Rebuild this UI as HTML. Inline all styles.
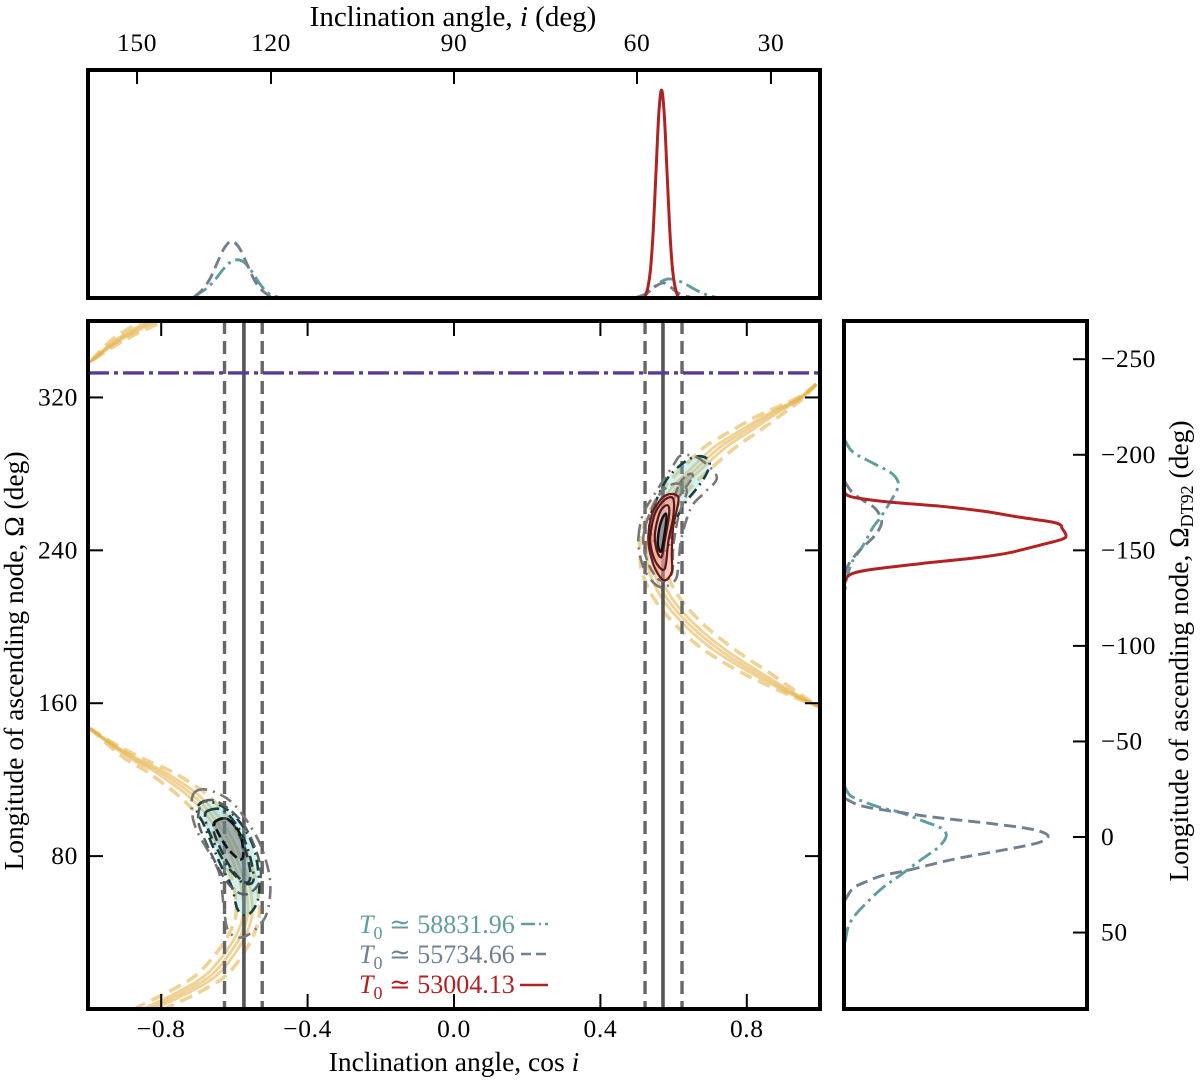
<!DOCTYPE html>
<html lang="en">
<head>
<meta charset="utf-8">
<title>Inclination and ascending node posterior</title>
<style>
html,body{margin:0;padding:0;background:#fff;}
svg{display:block;font-family:"Liberation Serif","DejaVu Serif",serif;}
text{fill:#000;}
</style>
</head>
<body>
<svg id="chart" xmlns="http://www.w3.org/2000/svg" width="1200" height="1081" viewBox="0 0 1200 1081">
  <defs>
    <clipPath id="main-clip"><rect x="88" y="321" width="732" height="688"/></clipPath>
  </defs>
  <rect x="0" y="0" width="1200" height="1081" fill="#fff"/>
  <g id="top-marks"></g>
  <g id="right-marks"></g>
  <g id="main-marks" clip-path="url(#main-clip)"></g>
  <g id="ticks"></g>
  <rect x="88" y="70" width="732" height="228" fill="none" stroke="#000" stroke-width="4"/>
  <rect x="88" y="321" width="732" height="688" fill="none" stroke="#000" stroke-width="4"/>
  <rect x="844" y="321" width="243" height="688" fill="none" stroke="#000" stroke-width="4"/>

  <text x="453" y="26" font-size="29" text-anchor="middle">Inclination angle, <tspan font-style="italic">i</tspan> (deg)</text>
  <text x="454" y="1071" font-size="27.5" text-anchor="middle">Inclination angle, cos <tspan font-style="italic">i</tspan></text>
  <text transform="translate(23,661) rotate(-90)" font-size="27.5" text-anchor="middle">Longitude of ascending node, Ω (deg)</text>
  <text transform="translate(1188,651) rotate(-90)" font-size="27.5" text-anchor="middle">Longitude of ascending node, Ω<tspan dy="5" font-size="18">DT92</tspan><tspan dy="-5"> (deg)</tspan></text>

  <g font-size="26">
    <text x="359" y="933" style="fill:#5f9ea0"><tspan font-style="italic" style="fill:#5f9ea0">T</tspan><tspan dy="6" font-size="18" style="fill:#5f9ea0">0</tspan><tspan dy="-6" style="fill:#5f9ea0"> ≃ 58831.96</tspan></text>
    <line x1="521" y1="924" x2="548" y2="924" stroke="#5f9ea0" stroke-width="2.6" stroke-dasharray="14 4 2 4"/>
    <text x="359" y="963" style="fill:#708090"><tspan font-style="italic" style="fill:#708090">T</tspan><tspan dy="6" font-size="18" style="fill:#708090">0</tspan><tspan dy="-6" style="fill:#708090"> ≃ 55734.66</tspan></text>
    <line x1="521" y1="954" x2="548" y2="954" stroke="#708090" stroke-width="2.6" stroke-dasharray="10 5"/>
    <text x="359" y="993" style="fill:#b22222"><tspan font-style="italic" style="fill:#b22222">T</tspan><tspan dy="6" font-size="18" style="fill:#b22222">0</tspan><tspan dy="-6" style="fill:#b22222"> ≃ 53004.13</tspan></text>
    <line x1="520" y1="985" x2="548" y2="985" stroke="#b22222" stroke-width="2.6"/>
  </g>
</svg>
<script>
// ---- tick data ----
const cosTicks = [-0.8, -0.4, 0, 0.4, 0.8];
const cosTickLabels = ['−0.8', '−0.4', '0.0', '0.4', '0.8'];
const angleTicks = [150, 120, 90, 60, 30];
const omegaTicks = [80, 160, 240, 320];
const dt92Ticks = [-250, -200, -150, -100, -50, 0, 50];
const dt92TickLabels = ['−250', '−200', '−150', '−100', '−50', '0', '50'];

// ---- reference lines ----
const inclinationCos = [-0.574, 0.571];
const inclinationCosBounds = [-0.627, -0.524, 0.522, 0.623];
const omegaReference = 332.8;

// ---- top marginal: cos i and density ----
const topTealCosA = [-0.71, -0.69, -0.67, -0.65, -0.63, -0.61, -0.593, -0.575, -0.555, -0.535, -0.515, -0.495, -0.48];
const topTealDensityA = [0, 0.025, 0.05, 0.09, 0.135, 0.17, 0.18, 0.17, 0.13, 0.075, 0.03, 0.006, 0];
const topTealCosB = [0.5, 0.52, 0.54, 0.56, 0.585, 0.61, 0.635, 0.66, 0.685, 0.713];
const topTealDensityB = [0, 0.012, 0.035, 0.068, 0.087, 0.08, 0.06, 0.035, 0.014, 0];
const topGreyCosA = [-0.71, -0.687, -0.667, -0.647, -0.627, -0.607, -0.587, -0.567, -0.547, -0.527, -0.5];
const topGreyDensityA = [0, 0.036, 0.087, 0.165, 0.238, 0.27, 0.238, 0.165, 0.087, 0.036, 0];
const topGreyCosB = [0.508, 0.525, 0.545, 0.571, 0.59, 0.61, 0.63, 0.645];
const topGreyDensityB = [0, 0.014, 0.045, 0.068, 0.05, 0.022, 0.006, 0];
const topRedCos = [0.522, 0.53, 0.537, 0.5445, 0.552, 0.5595, 0.567, 0.5745, 0.582, 0.5895, 0.597, 0.604, 0.612];
const topRedDensity = [0, 0.048, 0.135, 0.325, 0.607, 0.882, 1, 0.882, 0.607, 0.325, 0.135, 0.048, 0];

// ---- right marginal: Omega and density ----
const rightRedOmega = [269.9, 267.8, 265.2, 263.1, 260.5, 257.3, 254.7, 253.1, 251.6, 247.9, 245.8, 242.7, 238.5, 235.9, 233.2, 230.1, 228, 225.4, 222.8];
const rightRedDensity = [0, 0.036, 0.204, 0.43, 0.624, 0.792, 0.941, 0.977, 0.982, 1, 0.982, 0.882, 0.733, 0.579, 0.353, 0.127, 0.036, 0.005, 0];
const rightTealOmegaA = [297.6, 291.4, 285.6, 280.9, 277.2, 273, 265.2, 256.8, 252.1, 241.6, 234.8, 225.9, 219.1];
const rightTealDensityA = [0, 0.036, 0.127, 0.204, 0.235, 0.24, 0.204, 0.158, 0.127, 0.077, 0.036, 0.009, 0];
const rightGreyOmegaA = [275.7, 270.4, 266.2, 262, 256.8, 253.1, 247.9, 243.7, 238.5, 232.2, 228];
const rightGreyDensityA = [0, 0.032, 0.081, 0.136, 0.163, 0.163, 0.136, 0.1, 0.054, 0.014, 0];
const rightTealOmegaB = [116, 111.8, 109.2, 105.5, 102.9, 97.6, 95, 91.9, 88.7, 84, 77.7, 69.9, 63.6, 55.8, 49, 42.7, 34.3];
const rightTealDensityB = [0, 0.023, 0.068, 0.158, 0.249, 0.371, 0.43, 0.457, 0.452, 0.416, 0.339, 0.249, 0.172, 0.1, 0.045, 0.014, 0];
const rightGreyOmegaB = [110.2, 107.1, 105, 102.9, 100.8, 99.2, 97.1, 94.5, 92.4, 90.3, 87.7, 85.6, 81.9, 78.3, 72.5, 69.9, 66.8, 63.1, 56.8];
const rightGreyDensityB = [0, 0.054, 0.127, 0.249, 0.371, 0.489, 0.656, 0.824, 0.896, 0.919, 0.891, 0.824, 0.656, 0.489, 0.281, 0.172, 0.1, 0.036, 0];

// ---- constraint band: Omega, central cos i, half-width in cos i ----
const bandRightOmega = [327, 319.6, 310.7, 301.8, 294, 282, 271.5, 258.4, 245.3, 234.8, 227, 214, 200.8, 187.7, 174.6, 163, 158.4];
const bandRightCos = [0.99, 0.945, 0.863, 0.79, 0.727, 0.658, 0.604, 0.563, 0.541, 0.541, 0.549, 0.585, 0.645, 0.727, 0.836, 0.945, 0.995];
const bandRightSpread = [0, 0.009, 0.03, 0.039, 0.043, 0.039, 0.036, 0.033, 0.032, 0.032, 0.033, 0.036, 0.039, 0.043, 0.036, 0.014, 0];
const bandLeftOmega = [146.9, 138, 130.1, 124.9, 119.6, 111.8, 101.3, 88.2, 72.5, 62, 51.6, 43.7, 33.2, 18.6, 9.7, 0.3, -8];
const bandLeftCos = [-0.995, -0.932, -0.866, -0.811, -0.768, -0.713, -0.661, -0.617, -0.582, -0.568, -0.563, -0.571, -0.598, -0.658, -0.73, -0.83, -0.91];
const bandLeftSpread = [0, 0.012, 0.026, 0.033, 0.038, 0.041, 0.038, 0.036, 0.033, 0.032, 0.032, 0.033, 0.036, 0.041, 0.043, 0.041, 0.036];
const bandUpperOmega = [368, 359.4, 350, 338.5];
const bandUpperCos = [-0.75, -0.83, -0.918, -0.995];
const bandUpperSpread = [0.036, 0.03, 0.018, 0];

// ---- contours near the retrograde solution ----
const leftGreyOuterCos = [-0.708, -0.667, -0.603, -0.539, -0.507, -0.503, -0.521, -0.576, -0.617, -0.63, -0.644, -0.703, -0.717];
const leftGreyOuterOmega = [113.5, 114.4, 107.4, 90, 72.5, 58.5, 46.3, 37.6, 41.1, 55.1, 72.5, 93.5, 105.7];
const leftTealOuterCos = [-0.699, -0.676, -0.63, -0.589, -0.557, -0.539, -0.532, -0.544, -0.568, -0.592, -0.607, -0.639, -0.685, -0.701];
const leftTealOuterOmega = [106.5, 108.8, 105.7, 98.7, 89.1, 77.8, 62, 53.3, 49, 52.4, 63.8, 76, 97, 102.2];
const leftGreyMiddleCos = [-0.685, -0.639, -0.576, -0.535, -0.53, -0.562, -0.598, -0.635, -0.676, -0.699];
const leftGreyMiddleOmega = [108.3, 107.8, 96.9, 79.5, 67.3, 60.3, 62, 70.8, 86.5, 98.7];
const leftTealInnerCos = [-0.671, -0.63, -0.585, -0.557, -0.548, -0.571, -0.594, -0.63, -0.667, -0.68];
const leftTealInnerOmega = [103.9, 103.9, 93.5, 79.5, 67.3, 65.5, 69, 77.7, 91.7, 100.4];
const leftGreyInnerCos = [-0.648, -0.612, -0.576, -0.557, -0.562, -0.585, -0.617, -0.648, -0.658];
const leftGreyInnerOmega = [98.7, 98.7, 86.5, 72.5, 66.4, 68.1, 76, 88.2, 95.2];
const leftCoreCos = [-0.653, -0.621, -0.585, -0.576, -0.589, -0.621, -0.648];
const leftCoreOmega = [97.8, 99.6, 91.7, 80.4, 78.6, 84.7, 93.5];

// ---- contours near the prograde solution ----
const rightGreyOuterCos = [0.504, 0.517, 0.549, 0.599, 0.622, 0.67, 0.718, 0.686, 0.649, 0.622, 0.613, 0.604, 0.563, 0.526, 0.508];
const rightGreyOuterOmega = [247, 259.2, 269.7, 284.5, 289.7, 288, 278.4, 270.5, 262.7, 247, 233, 224.3, 220.8, 227.8, 237.4];
const rightTealOuterCos = [0.545, 0.577, 0.608, 0.645, 0.677, 0.698, 0.69, 0.663, 0.627, 0.599, 0.581, 0.545, 0.534];
const rightTealOuterOmega = [262.7, 275.8, 282.8, 288, 289.2, 286.3, 280.1, 272.3, 263.6, 252.2, 240, 245.2, 254];
const rightGreyMiddleCos = [0.517, 0.531, 0.563, 0.604, 0.636, 0.613, 0.599, 0.595, 0.563, 0.531];
const rightGreyMiddleOmega = [245.2, 257.5, 269.7, 274.9, 271.4, 257.5, 241.8, 227.8, 224.3, 233];
const rightSmallCos = [0.604, 0.622, 0.645, 0.652, 0.631, 0.613];
const rightSmallOmega = [268.8, 276.7, 280.1, 278.4, 272.3, 267.9];
const redOuterCos = [0.531, 0.54, 0.563, 0.586, 0.608, 0.613, 0.599, 0.595, 0.595, 0.576, 0.554, 0.536];
const redOuterOmega = [247, 258.3, 266.2, 269.3, 268.8, 265.3, 252.2, 238.3, 228.7, 224.3, 228.7, 238.3];
const redMiddleCos = [0.536, 0.549, 0.576, 0.599, 0.599, 0.586, 0.576, 0.554, 0.54];
const redMiddleOmega = [247, 259.2, 266.5, 267, 257.5, 245.2, 230.4, 233, 240];
const redInnerCos = [0.549, 0.563, 0.583, 0.588, 0.576, 0.567, 0.554];
const redInnerOmega = [248.7, 260.1, 263.6, 259.2, 245.2, 236.5, 240];
const redCoreCos = [0.558, 0.567, 0.579, 0.579, 0.567, 0.558];
const redCoreOmega = [247.9, 255.7, 259.2, 254, 240, 241.8];

// ---- axis functions ----
const SVGNS = 'http://www.w3.org/2000/svg';
const xCos = c => 454 + 366 * c;
const yOmega = o => 1009 - o * (688 / 360);
const yDt92 = v => yOmega(90 - v);
const yTopDensity = d => 297 - 207 * d;
const xRightDensity = d => 845 + 221 * d;
const xAngle = a => xCos(Math.cos(a * Math.PI / 180));

function splinePath(pts, closed) {
  const n = pts.length;
  const at = i => closed ? pts[(i + n) % n] : pts[Math.max(0, Math.min(n - 1, i))];
  let d = 'M' + pts[0][0].toFixed(2) + ' ' + pts[0][1].toFixed(2);
  const segs = closed ? n : n - 1;
  for (let i = 0; i < segs; i++) {
    const p0 = at(i - 1), p1 = at(i), p2 = at(i + 1), p3 = at(i + 2);
    const c1x = p1[0] + (p2[0] - p0[0]) / 6, c1y = p1[1] + (p2[1] - p0[1]) / 6;
    const c2x = p2[0] - (p3[0] - p1[0]) / 6, c2y = p2[1] - (p3[1] - p1[1]) / 6;
    d += 'C' + c1x.toFixed(2) + ' ' + c1y.toFixed(2) + ' ' + c2x.toFixed(2) + ' ' + c2y.toFixed(2) + ' ' + p2[0].toFixed(2) + ' ' + p2[1].toFixed(2);
  }
  return d + (closed ? 'Z' : '');
}

const topG = document.getElementById('top-marks');
const rightG = document.getElementById('right-marks');
const mainG = document.getElementById('main-marks');
const tickG = document.getElementById('ticks');

function addPath(parent, name, d, stroke, width, dash, fill, opacity) {
  const el = document.createElementNS(SVGNS, 'path');
  
  
  el.setAttribute('d', d);
  el.setAttribute('stroke', stroke);
  el.setAttribute('stroke-width', width);
  el.setAttribute('fill', fill || 'none');
  if (dash) el.setAttribute('stroke-dasharray', dash);
  if (opacity) el.setAttribute('stroke-opacity', opacity);
  parent.appendChild(el);
  return el;
}
function addLine(parent, name, x1, y1, x2, y2, stroke, width, dash) {
  const el = document.createElementNS(SVGNS, 'line');
  
  
  el.setAttribute('x1', x1);
  el.setAttribute('y1', y1);
  el.setAttribute('x2', x2);
  el.setAttribute('y2', y2);
  el.setAttribute('stroke', stroke);
  el.setAttribute('stroke-width', width);
  if (dash) el.setAttribute('stroke-dasharray', dash);
  parent.appendChild(el);
  return el;
}
function addLabel(name, x, y, anchor, content) {
  const el = document.createElementNS(SVGNS, 'text');
  
  
  el.setAttribute('x', x);
  el.setAttribute('y', y);
  el.setAttribute('text-anchor', anchor);
  el.setAttribute('font-size', '25.5');
  el.setAttribute('letter-spacing', '0.6');
  el.textContent = content;
  tickG.appendChild(el);
}

const TEAL = '#5f9ea0', GREY = '#708090', RED = '#b22222';
const DASHDOT = '15 5 3 5', DASHED = '12 6';

// ---- top marginal ----
const topMarg = (cos, dens) => splinePath(cos.map((c, i) => [xCos(c), yTopDensity(dens[i])]), false);
addPath(topG, 'top-teal-curve-retrograde', topMarg(topTealCosA, topTealDensityA), TEAL, 2.9, DASHDOT);
addPath(topG, 'top-grey-curve-retrograde', topMarg(topGreyCosA, topGreyDensityA), GREY, 2.9, DASHED);
addPath(topG, 'top-teal-curve-prograde', topMarg(topTealCosB, topTealDensityB), TEAL, 2.9, DASHDOT);
addPath(topG, 'top-grey-curve-prograde', topMarg(topGreyCosB, topGreyDensityB), GREY, 2.9, DASHED);
addPath(topG, 'top-red-curve', topMarg(topRedCos, topRedDensity), RED, 3);

// ---- right marginal ----
const rightMarg = (om, dens) => splinePath(om.map((o, i) => [xRightDensity(dens[i]), yOmega(o)]), false);
addPath(rightG, 'right-teal-curve-upper', rightMarg(rightTealOmegaA, rightTealDensityA), TEAL, 2.9, DASHDOT);
addPath(rightG, 'right-grey-curve-upper', rightMarg(rightGreyOmegaA, rightGreyDensityA), GREY, 2.9, DASHED);
addPath(rightG, 'right-red-curve', rightMarg(rightRedOmega, rightRedDensity), RED, 3);
addPath(rightG, 'right-teal-curve-lower', rightMarg(rightTealOmegaB, rightTealDensityB), TEAL, 2.9, DASHDOT);
addPath(rightG, 'right-grey-curve-lower', rightMarg(rightGreyOmegaB, rightGreyDensityB), GREY, 2.9, DASHED);

// ---- constraint band ----
const YELLOW = '#e6b24a';
function drawBand(prefix, om, cen, spr) {
  const offsetLine = f => splinePath(om.map((o, i) => [xCos(cen[i] + f * spr[i]), yOmega(o)]), false);
  addPath(mainG, prefix + '-band-outer-a', offsetLine(1), YELLOW, 3.6, '13 7', null, 0.58);
  addPath(mainG, prefix + '-band-outer-b', offsetLine(-1), YELLOW, 3.6, '13 7', null, 0.58);
  addPath(mainG, prefix + '-band-inner-a', offsetLine(0.38), YELLOW, 2.8, null, null, 0.58);
  addPath(mainG, prefix + '-band-inner-b', offsetLine(-0.38), YELLOW, 2.8, null, null, 0.58);
  addPath(mainG, prefix + '-band-center', offsetLine(0), YELLOW, 2.8, null, null, 0.58);
}
drawBand('right-arm', bandRightOmega, bandRightCos, bandRightSpread);
drawBand('left-arm', bandLeftOmega, bandLeftCos, bandLeftSpread);
drawBand('upper-left-arm', bandUpperOmega, bandUpperCos, bandUpperSpread);

// ---- reference lines ----
inclinationCos.forEach(function (c) {
  addLine(mainG, 'inclination-line', xCos(c), 321, xCos(c), 1009, '#555', 3.6);
});
inclinationCosBounds.forEach(function (c) {
  addLine(mainG, 'inclination-bound-line', xCos(c), 321, xCos(c), 1009, '#666', 3.4, '13 7');
});
addLine(mainG, 'omega-reference-line', 88, yOmega(omegaReference), 820, yOmega(omegaReference), '#5b3a96', 3.4, '21 5 4 5');

// ---- contours ----
const contour = (cos, om) => splinePath(cos.map((c, i) => [xCos(c), yOmega(om[i])]), true);
const TEAL_DARK = '#163f40';
addPath(mainG, 'left-teal-contour-outer', contour(leftTealOuterCos, leftTealOuterOmega), TEAL_DARK, 2.6, '11 5 2 5', 'rgba(120,205,205,0.3)');
addPath(mainG, 'left-teal-contour-inner', contour(leftTealInnerCos, leftTealInnerOmega), TEAL_DARK, 2.6, '11 5 2 5', 'rgba(110,180,180,0.16)');
addPath(mainG, 'left-grey-contour-outer', contour(leftGreyOuterCos, leftGreyOuterOmega), '#777', 2.6, '13 6 2 6');
addPath(mainG, 'left-grey-contour-middle', contour(leftGreyMiddleCos, leftGreyMiddleOmega), '#5a5f65', 2.5, '11 5');
addPath(mainG, 'left-grey-contour-inner', contour(leftGreyInnerCos, leftGreyInnerOmega), '#2e3338', 2.5, '10 5', 'rgba(95,100,115,0.26)');
addPath(mainG, 'left-core-contour', contour(leftCoreCos, leftCoreOmega), '#111', 2.6, '9 4', 'rgba(90,90,90,0.18)');

addPath(mainG, 'right-teal-contour-outer', contour(rightTealOuterCos, rightTealOuterOmega), TEAL_DARK, 2.6, '11 5 2 5', 'rgba(120,205,205,0.3)');
addPath(mainG, 'right-grey-contour-outer', contour(rightGreyOuterCos, rightGreyOuterOmega), '#777', 2.6, '13 6 2 6');
addPath(mainG, 'right-grey-contour-middle', contour(rightGreyMiddleCos, rightGreyMiddleOmega), '#777', 2.5, '11 5');
addPath(mainG, 'right-small-contour', contour(rightSmallCos, rightSmallOmega), '#777', 2.4, '9 3', 'rgba(130,130,130,0.35)');
addPath(mainG, 'red-contour-outer', contour(redOuterCos, redOuterOmega), '#6a1a1c', 2.2, null, 'rgba(240,150,125,0.5)');
addPath(mainG, 'red-contour-middle', contour(redMiddleCos, redMiddleOmega), '#5c1517', 2.2, null, 'rgba(235,170,165,0.45)');
addPath(mainG, 'red-contour-inner', contour(redInnerCos, redInnerOmega), '#5c1517', 2.2, null, 'rgba(225,190,190,0.6)');
addPath(mainG, 'red-core-contour', contour(redCoreCos, redCoreOmega), '#111', 2.4, null, '#96939a');

// ---- ticks ----
cosTicks.forEach(function (c, i) {
  addLine(tickG, 'x-tick-bottom', xCos(c), 1009, xCos(c), 994, '#000', 2);
  addLine(tickG, 'x-tick-top', xCos(c), 321, xCos(c), 336, '#000', 2);
  addLabel('x-tick-label', xCos(c), 1037, 'middle', cosTickLabels[i]);
});
angleTicks.forEach(function (a) {
  addLine(tickG, 'angle-tick', xAngle(a), 70, xAngle(a), 84, '#000', 2);
  addLabel('angle-tick-label', xAngle(a), 51, 'middle', String(a));
});
omegaTicks.forEach(function (o) {
  addLine(tickG, 'y-tick-left', 88, yOmega(o), 103, yOmega(o), '#000', 2);
  addLine(tickG, 'y-tick-right', 820, yOmega(o), 805, yOmega(o), '#000', 2);
  addLabel('y-tick-label', 78, yOmega(o) + 8, 'end', String(o));
});
dt92Ticks.forEach(function (v, i) {
  addLine(tickG, 'dt92-tick', 1087, yDt92(v), 1073, yDt92(v), '#000', 2);
  addLabel('dt92-tick-label', 1101, yDt92(v) + 8, 'start', dt92TickLabels[i]);
});
</script>
</body>
</html>
